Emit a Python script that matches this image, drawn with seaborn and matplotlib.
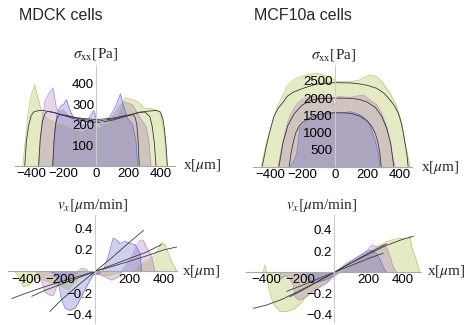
import numpy as np
import pandas as pd
import matplotlib
matplotlib.use("Agg")
import matplotlib.pyplot as plt
import seaborn as sns
from matplotlib.ticker import MultipleLocator

# ---------------- data ----------------
# Top-left: MDCK sigma_xx [Pa]
tl_green_x = [-452, -421, -400, -379, -358, -337, -300, -250, -200, -150, -92, -40, 0, 60, 120, 174, 192, 230, 255, 296, 337, 368, 399, 419, 435]
tl_green_y = [0, 248, 345, 393, 329, 264, 230, 210, 200, 185, 168, 190, 200, 205, 230, 330, 329, 320, 312, 280, 280, 272, 248, 150, 0]
tl_purple_x = [-352, -337, -317, -297, -266, -245, -225, -205, -170, -130, -77, -50, -31, -10, 20, 60, 100, 140, 174, 225, 266, 307, 323, 337]
tl_purple_y = [0, 199, 312, 345, 380, 280, 264, 272, 240, 215, 200, 175, 217, 200, 180, 210, 240, 290, 312, 296, 239, 191, 126, 0]
tl_blue_x = [-266, -255, -240, -220, -200, -184, -165, -133, -100, -60, -31, -15, 0, 31, 60, 100, 125, 149, 165, 194, 225, 245, 255]
tl_blue_y = [0, 180, 260, 290, 300, 322, 280, 217, 233, 215, 250, 270, 230, 200, 215, 260, 300, 350, 300, 231, 199, 118, 0]
tl_fitg_x = [-440, -430, -415, -400, -385, -360, -330, -250, -180, -100, 0, 100, 180, 250, 320, 370, 395, 410, 420, 430, 438]
tl_fitg_y = [0, 120, 200, 245, 262, 268, 270, 257, 243, 232, 225, 232, 243, 257, 266, 270, 262, 230, 180, 100, 0]
tl_fitp_x = [-355, -345, -330, -315, -300, -270, -200, -100, 0, 100, 200, 270, 300, 330, 345, 358, 368]
tl_fitp_y = [0, 130, 220, 255, 265, 262, 245, 222, 209, 222, 245, 262, 262, 240, 190, 110, 0]
tl_fitb_x = [-268, -260, -250, -240, -225, -180, -100, 0, 100, 180, 225, 240, 250, 258, 265]
tl_fitb_y = [0, 120, 200, 235, 249, 245, 228, 217, 228, 245, 249, 235, 200, 120, 0]

# Top-right: MCF10a sigma_xx [Pa]
tr_green_x = [-455, -418, -381, -356, -319, -294, -250, -212, -175, -113, -51, -10, 10, 93, 154, 185, 216, 257, 298, 340, 381, 412, 432, 452, 463]
tr_green_y = [0, 780, 1300, 1750, 2090, 2350, 2550, 2625, 2675, 2725, 2640, 2560, 2480, 2480, 2530, 2610, 2675, 2625, 2430, 2140, 1750, 1265, 680, 240, 0]
tr_purple_x = [-350, -330, -310, -290, -270, -230, -190, -150, -100, -50, -15, -5, 5, 19, 93, 175, 216, 257, 288, 319, 340, 360, 370]
tr_purple_y = [0, 500, 950, 1300, 1555, 1850, 1990, 2040, 2060, 2060, 2000, 1800, 1800, 2040, 2020, 2090, 1945, 1800, 1555, 1165, 680, 190, 0]
tr_blue_x = [-275, -250, -236, -225, -216, -196, -165, -113, -51, -10, 31, 93, 134, 175, 216, 247, 268, 278]
tr_blue_y = [0, 200, 385, 800, 1115, 1213, 1360, 1455, 1505, 1555, 1555, 1600, 1555, 1455, 1215, 775, 385, 0]
tr_fitg_x = [-448, -425, -400, -377, -350, -319, -294, -257, -196, -113, 0, 100, 154, 200, 257, 300, 340, 370, 391, 410, 422, 435, 443, 451]
tr_fitg_y = [0, 550, 1050, 1455, 1700, 1880, 2050, 2170, 2285, 2410, 2450, 2440, 2410, 2370, 2285, 2150, 1945, 1750, 1555, 1250, 970, 600, 385, 0]
tr_fitp_x = [-345, -320, -290, -250, -200, -150, -100, 0, 100, 150, 200, 250, 290, 320, 345, 362]
tr_fitp_y = [0, 700, 1200, 1550, 1800, 1930, 1980, 2000, 1990, 1960, 1880, 1720, 1450, 1100, 650, 0]
tr_fitb_x = [-282, -270, -255, -240, -220, -200, -150, -100, -50, 0, 50, 100, 150, 200, 230, 250, 265, 277, 285]
tr_fitb_y = [0, 400, 750, 1000, 1180, 1290, 1440, 1520, 1560, 1570, 1570, 1550, 1480, 1330, 1150, 950, 700, 400, 0]

# Bottom-left: MDCK v_x [um/min]
bl_green_x = [-504, -465, -446, -417, -388, -359, -330, -300, -262, -230, -194, -155, -116, -90, -60, -30, 0, 40, 80, 120, 160, 213, 252, 291, 330, 359, 388, 407, 426, 446, 465, 475]
bl_green_y = [0, 0, -0.05, -0.14, -0.13, -0.08, -0.06, -0.08, -0.10, -0.12, -0.14, -0.17, -0.09, -0.05, -0.03, 0.0, -0.02, -0.03, -0.04, -0.02, 0.0, 0.0, 0.06, 0.09, 0.12, 0.18, 0.27, 0.25, 0.17, 0.09, 0.04, 0]
bl_purple_x = [-339, -330, -310, -291, -262, -242, -225, -200, -170, -140, -110, -77, -50, -17, 0, 30, 58, 97, 136, 155, 194, 223, 242, 262, 281, 291, 310, 329, 349]
bl_purple_y = [0, -0.06, -0.09, -0.19, -0.22, -0.22, -0.15, -0.10, -0.08, -0.06, -0.02, 0.03, 0.02, -0.04, -0.02, -0.03, -0.05, -0.08, -0.05, 0, 0.09, 0.17, 0.24, 0.29, 0.29, 0.25, 0.20, 0.14, 0]
bl_blue_x = [-262, -233, -213, -194, -174, -145, -116, -97, -68, -39, -10, 19, 48, 77, 97, 106, 126, 145, 174, 203, 233, 262, 271]
bl_blue_y = [0, -0.02, -0.11, -0.26, -0.34, -0.36, -0.34, -0.29, -0.20, -0.11, -0.03, -0.02, 0.01, 0.14, 0.26, 0.31, 0.29, 0.26, 0.28, 0.26, 0.25, 0.17, 0]
bl_fitg_x = [-484, -400, -300, -200, -100, 0, 100, 200, 300, 400, 484]
bl_fitg_y = [-0.25, -0.20, -0.145, -0.095, -0.047, 0, 0.047, 0.095, 0.145, 0.20, 0.23]
bl_fitp_x = [-368, -300, -200, -100, 0, 100, 200, 300, 388]
bl_fitp_y = [-0.23, -0.18, -0.12, -0.06, 0, 0.06, 0.12, 0.18, 0.25]
bl_fitb_x = [-262, -200, -100, 0, 100, 200, 282]
bl_fitb_y = [-0.37, -0.27, -0.13, 0, 0.13, 0.27, 0.38]

# Bottom-right: MCF10a v_x [um/min]
br_green_x = [-418, -408, -398, -388, -368, -349, -319, -280, -241, -202, -162, -124, -84, -45, -6, 34, 100, 150, 200, 250, 308, 347, 386, 426, 445, 455, 475, 494, 504]
br_green_y = [0, 0.07, 0, -0.14, -0.25, -0.32, -0.37, -0.37, -0.35, -0.30, -0.22, -0.16, -0.13, -0.10, -0.05, 0, 0.08, 0.13, 0.18, 0.24, 0.29, 0.31, 0.32, 0.32, 0.34, 0.24, 0.15, 0.05, 0]
br_purple_x = [-319, -309, -290, -261, -241, -231, -212, -182, -143, -104, -45, 0, 73, 151, 190, 220, 249, 288, 308, 328, 347, 367]
br_purple_y = [0, -0.06, -0.03, -0.06, -0.12, -0.23, -0.26, -0.25, -0.20, -0.16, -0.10, -0.01, 0.09, 0.15, 0.20, 0.26, 0.24, 0.26, 0.23, 0.15, 0.05, 0]
br_blue_x = [-192, -172, -124, -65, 0, 53, 112, 171, 210, 249, 269, 288, 308]
br_blue_y = [0, -0.03, -0.10, -0.08, -0.03, 0.05, 0.12, 0.18, 0.21, 0.18, 0.12, 0.05, 0]
br_fitg_x = [-476, -400, -300, -200, -100, 0, 100, 200, 300, 400, 465]
br_fitg_y = [-0.34, -0.31, -0.25, -0.17, -0.09, 0, 0.09, 0.17, 0.25, 0.31, 0.34]
br_fitp_x = [-261, -200, -100, 0, 100, 200, 308]
br_fitp_y = [-0.23, -0.18, -0.09, 0, 0.09, 0.18, 0.27]
br_fitb_x = [-280, -200, -100, 0, 100, 200, 288]
br_fitb_y = [-0.18, -0.13, -0.065, 0, 0.065, 0.13, 0.18]

titles = ["MDCK cells", "MCF10a cells"]
top_xticks = [-400, -200, 0, 200, 400]
bot_xticks = [-400, -200, 200, 400]
tl_yticks = [100, 200, 300, 400]
tr_yticks = [500, 1000, 1500, 2000, 2500]
bot_yticks = [-0.4, -0.2, 0.2, 0.4]

# ---------------- style ----------------
sns.set_style("white")
plt.rcParams["font.family"] = ["Liberation Sans", "DejaVu Sans"]
plt.rcParams["mathtext.fontset"] = "stix"

W, H = 467, 325
fig = plt.figure(figsize=(W / 100, H / 100), dpi=100)

C_GREEN = (155 / 255, 180 / 255, 40 / 255)
C_PURPLE = (160 / 255, 100 / 255, 175 / 255)
C_BLUE = (80 / 255, 80 / 255, 195 / 255)
ALPHA = 0.27
EDGE = {"g": "#bcc670", "p": "#b88ccc", "b": "#7070d8"}
AXC = "#a8a8a8"


def make_ax(l, r, t, b, xlim, ylim):
    ax = fig.add_axes([l / W, 1 - b / H, (r - l) / W, (b - t) / H])
    ax.set_xlim(*xlim)
    ax.set_ylim(*ylim)
    ax.patch.set_alpha(0)
    ax.set_axisbelow(False)
    for s in ["top", "right"]:
        ax.spines[s].set_visible(False)
    ax.spines["left"].set_position(("data", 0))
    ax.spines["bottom"].set_position(("data", 0))
    ax.spines["left"].set_color("#c8ccd4")
    ax.spines["bottom"].set_color(AXC)
    ax.spines["left"].set_linewidth(0.8)
    ax.spines["bottom"].set_linewidth(0.8)
    ax.spines["left"].set_zorder(3)
    ax.spines["bottom"].set_zorder(3)
    ax.tick_params(axis="both", which="major", direction="in", length=3, width=0.6,
                   color=AXC, labelsize=9.5, pad=1.5, labelcolor="black")
    ax.tick_params(axis="both", which="minor", direction="in", length=1.5, width=0.5, color=AXC)
    ax.xaxis.set_zorder(4)
    ax.yaxis.set_zorder(4)
    return ax


def draw(ax, xs, ys, face, edge):
    df = pd.DataFrame({"x": xs, "y": ys})
    ax.fill_between(df["x"], 0, df["y"], color=face, alpha=ALPHA, lw=0, zorder=1)
    sns.lineplot(data=df, x="x", y="y", ax=ax, color=edge, lw=0.55, alpha=0.9,
                 sort=False, estimator=None, zorder=1.5)


def fit(ax, xs, ys):
    df = pd.DataFrame({"x": xs, "y": ys})
    sns.lineplot(data=df, x="x", y="y", ax=ax, color="#3a3a3a", lw=0.6,
                 sort=False, estimator=None, zorder=2)


def finish(ax, xt, yt, ylab_fmt):
    ax.set_xticks(xt, labels=[str(v).replace("-", "\u2212") for v in xt])
    ax.set_yticks(yt, labels=[ylab_fmt(v).replace("-", "\u2212") for v in yt])
    ax.set_xlabel("")
    ax.set_ylabel("")


# Top-left
ax = make_ax(15, 175, 65, 166, (-500, 485), (0, 490))
draw(ax, tl_green_x, tl_green_y, C_GREEN, EDGE["g"])
draw(ax, tl_purple_x, tl_purple_y, C_PURPLE, EDGE["p"])
draw(ax, tl_blue_x, tl_blue_y, C_BLUE, EDGE["b"])
for xs, ys in [(tl_fitg_x, tl_fitg_y), (tl_fitp_x, tl_fitp_y), (tl_fitb_x, tl_fitb_y)]:
    fit(ax, xs, ys)
ax.xaxis.set_minor_locator(MultipleLocator(100))
ax.yaxis.set_minor_locator(MultipleLocator(50))
finish(ax, top_xticks, tl_yticks, lambda v: str(v))

# Top-right
ax = make_ax(253, 412, 65, 166.5, (-505, 475), (0, 2965))
draw(ax, tr_green_x, tr_green_y, C_GREEN, EDGE["g"])
draw(ax, tr_purple_x, tr_purple_y, C_PURPLE, EDGE["p"])
draw(ax, tr_blue_x, tr_blue_y, C_BLUE, EDGE["b"])
for xs, ys in [(tr_fitg_x, tr_fitg_y), (tr_fitp_x, tr_fitp_y), (tr_fitb_x, tr_fitb_y)]:
    fit(ax, xs, ys)
ax.xaxis.set_minor_locator(MultipleLocator(100))
ax.yaxis.set_minor_locator(MultipleLocator(250))
finish(ax, top_xticks, tr_yticks, lambda v: str(v))

# Bottom-left
ax = make_ax(8, 177, 215, 323, (-506, 477), (-0.477, 0.523))
draw(ax, bl_green_x, bl_green_y, C_GREEN, EDGE["g"])
draw(ax, bl_purple_x, bl_purple_y, C_PURPLE, EDGE["p"])
draw(ax, bl_blue_x, bl_blue_y, C_BLUE, EDGE["b"])
for xs, ys in [(bl_fitg_x, bl_fitg_y), (bl_fitp_x, bl_fitp_y), (bl_fitb_x, bl_fitb_y)]:
    fit(ax, xs, ys)
ax.xaxis.set_minor_locator(MultipleLocator(100))
ax.yaxis.set_minor_locator(MultipleLocator(0.1))
finish(ax, bot_xticks, bot_yticks, lambda v: f"{v:.1f}")

# Bottom-right
ax = make_ax(246, 421, 215, 322, (-519, 510), (-0.469, 0.541))
draw(ax, br_green_x, br_green_y, C_GREEN, EDGE["g"])
draw(ax, br_purple_x, br_purple_y, C_PURPLE, EDGE["p"])
draw(ax, br_blue_x, br_blue_y, C_BLUE, EDGE["b"])
for xs, ys in [(br_fitg_x, br_fitg_y), (br_fitp_x, br_fitp_y), (br_fitb_x, br_fitb_y)]:
    fit(ax, xs, ys)
ax.xaxis.set_minor_locator(MultipleLocator(100))
ax.yaxis.set_minor_locator(MultipleLocator(0.1))
finish(ax, bot_xticks, bot_yticks, lambda v: f"{v:.1f}")


def ftxt(px, py, s, **kw):
    fig.text(px / W, 1 - py / H, s, **kw)


serif = ["Liberation Serif", "DejaVu Serif"]
ftxt(61, 15, titles[0], ha="center", va="center", fontsize=11.5)
ftxt(303, 15, titles[1], ha="center", va="center", fontsize=11.5)
ftxt(96, 54, r"$\sigma_{\mathrm{xx}}$[Pa]", ha="center", va="center", fontsize=11, family=serif)
ftxt(334, 55, r"$\sigma_{\mathrm{xx}}$[Pa]", ha="center", va="center", fontsize=11, family=serif)
ftxt(93, 205, r"$v_x[\mu$m/min]", ha="center", va="center", fontsize=11, family=serif)
ftxt(322, 205, r"$v_x[\mu$m/min]", ha="center", va="center", fontsize=11, family=serif)
for px, py in [(183, 166), (421, 167), (182, 271), (427, 271)]:
    ftxt(px, py, r"x[$\mu$m]", ha="left", va="center", fontsize=11, family=serif)

fig.savefig("out.png", dpi=100)
